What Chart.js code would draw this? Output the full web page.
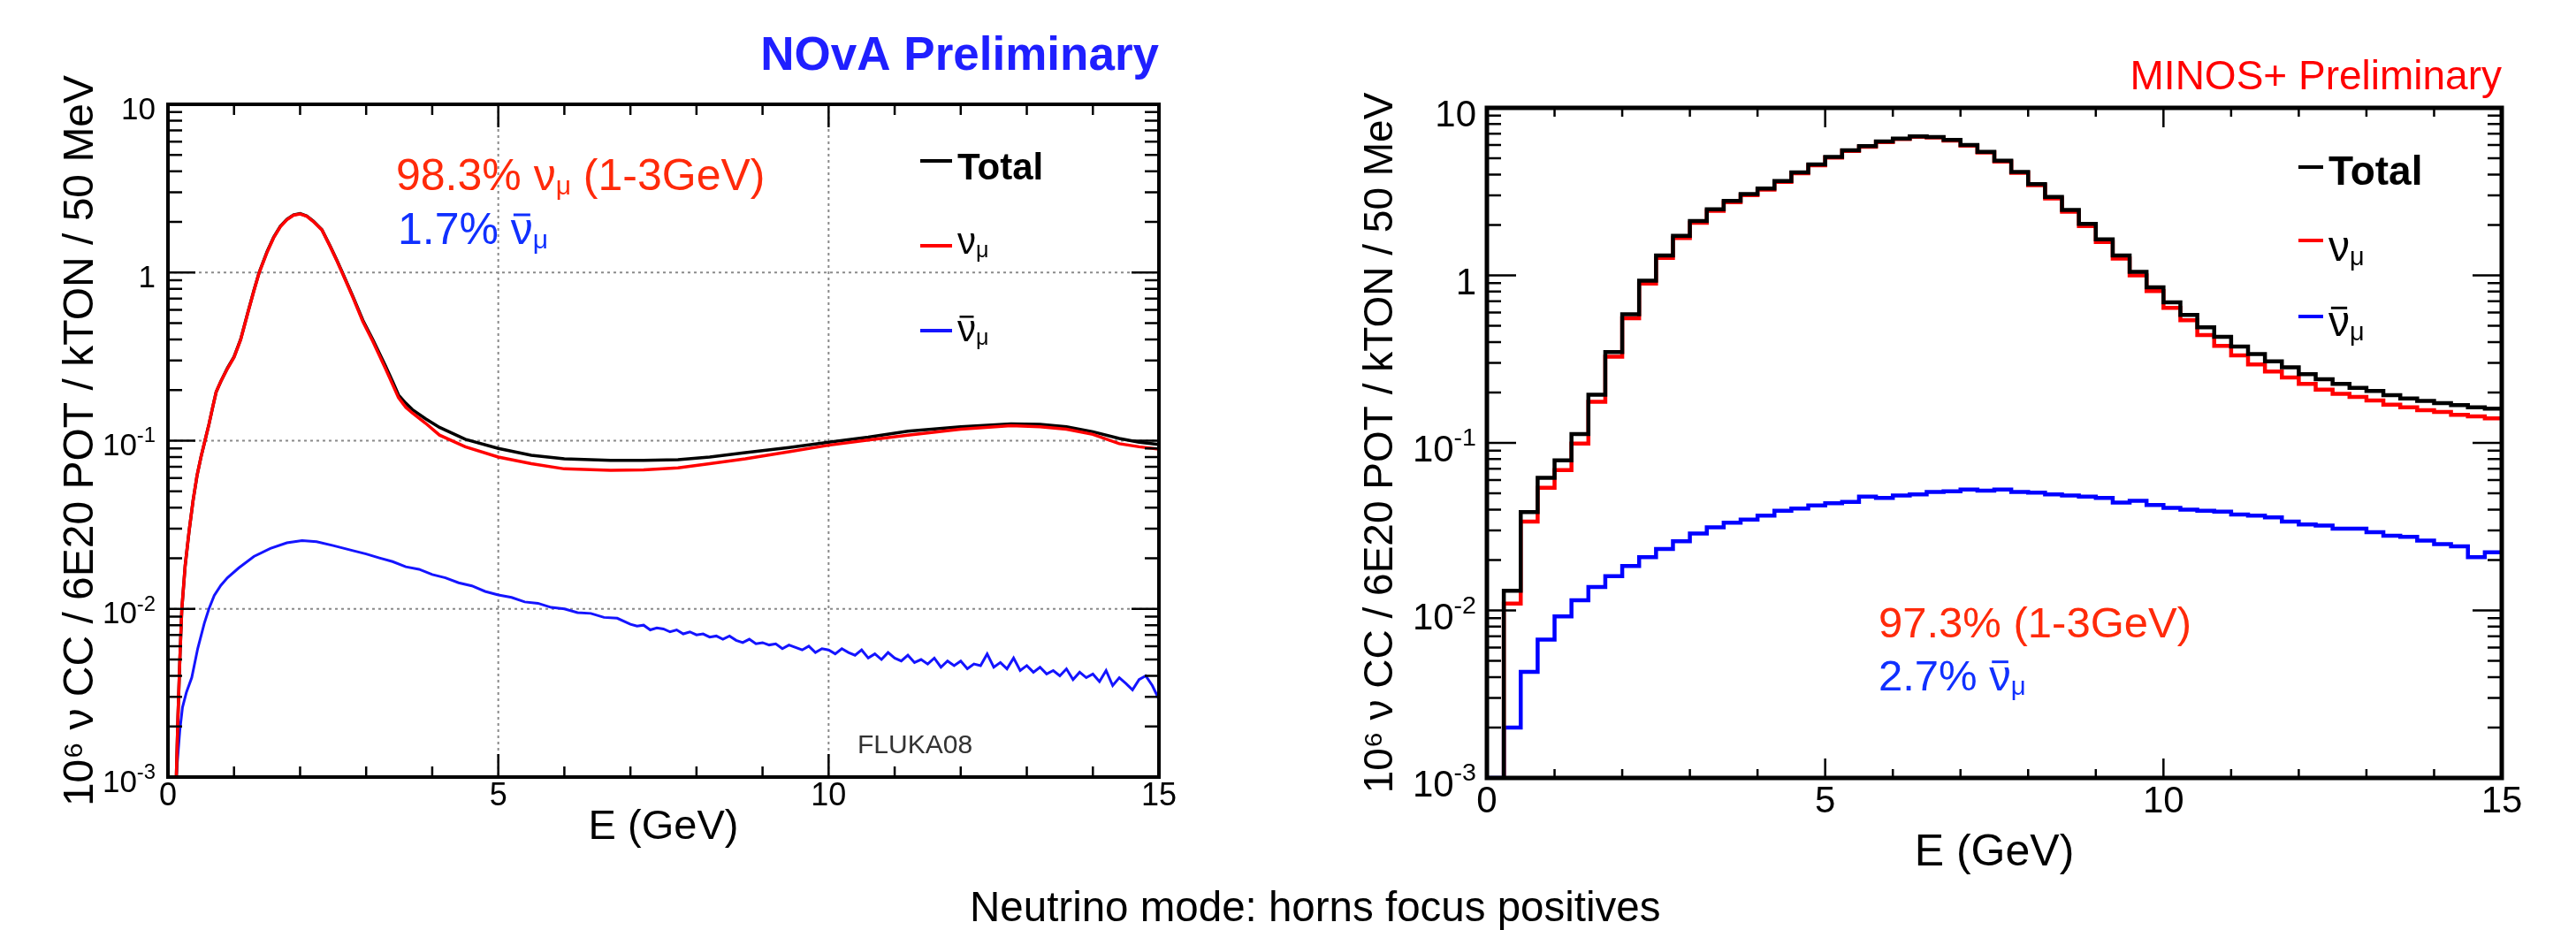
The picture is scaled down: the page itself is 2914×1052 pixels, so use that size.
<!DOCTYPE html>
<html>
<head>
<meta charset="utf-8">
<title>Neutrino mode: horns focus positives</title>
<script src="https://cdn.jsdelivr.net/npm/chart.js@4.4.1/dist/chart.umd.min.js"></script>
<style>
  html, body { margin:0; padding:0; background:#ffffff; }
  #wrap { position:relative; width:2914px; height:1052px; overflow:hidden; background:#ffffff; }
  #novaCanvas { position:absolute; left:0; top:0; }
  #minosCanvas { position:absolute; left:1450px; top:0; }
  #caption { position:absolute; left:1097px; top:1002px; font-family:'Liberation Sans', Arial, Helvetica, sans-serif; font-size:47.5px; line-height:47.5px; white-space:nowrap; color:#000; }
</style>
</head>
<body>
<div id="wrap">
  <canvas id="novaCanvas" width="1400" height="1052"></canvas>
  <canvas id="minosCanvas" width="1464" height="1052"></canvas>
  <div id="caption">Neutrino mode: horns focus positives</div>
</div>
<script>
const FONT = "'Liberation Sans', Arial, Helvetica, sans-serif";

// ---------------- NOvA panel (left) ----------------
const novaE = [0.12,0.15,0.18,0.21,0.26,0.32,0.38,0.44,0.50,0.56,0.62,0.68,0.73,0.80,0.90,1.00,1.10,1.21,1.30,1.38,
  1.50,1.60,1.70,1.80,1.90,2.00,2.10,2.20,2.33,2.45,2.55,2.64,2.80,2.95,3.10,3.29,3.40,3.49,3.60,3.70,
  3.90,4.11,4.50,5.00,5.50,6.00,6.70,7.20,7.72,8.20,8.74,9.40,10.0,10.6,11.2,12.0,12.76,13.2,13.6,14.0,
  14.4,14.7,15.0];
const novaTotal = [0.0008,0.0022,0.005,0.010,0.018,0.029,0.044,0.062,0.080,0.100,0.125,0.160,0.195,0.225,0.270,0.315,0.400,0.580,0.780,1.00,
  1.33,1.62,1.88,2.07,2.20,2.24,2.17,2.02,1.80,1.45,1.20,1.00,0.72,0.52,0.40,0.28,0.225,0.187,0.167,0.153,
  0.135,0.120,0.102,0.090,0.082,0.078,0.0765,0.0765,0.077,0.080,0.085,0.091,0.098,0.105,0.114,0.121,0.126,0.125,0.121,0.113,
  0.103,0.098,0.095];
const novaNumu = [0.0008,0.0022,0.005,0.010,0.018,0.029,0.044,0.062,0.080,0.100,0.125,0.160,0.195,0.225,0.268,0.313,0.398,0.577,0.776,0.995,
  1.32,1.61,1.87,2.06,2.19,2.23,2.16,2.01,1.79,1.44,1.19,0.99,0.71,0.51,0.39,0.27,0.216,0.180,0.158,0.146,
  0.127,0.108,0.092,0.080,0.073,0.068,0.0667,0.067,0.069,0.073,0.078,0.086,0.094,0.101,0.108,0.117,0.123,0.121,0.117,0.109,
  0.096,0.092,0.089];
const novaBarE = [0.10,0.14,0.18,0.22,0.28,0.36,0.45,0.55,0.62,0.70,0.80,0.90,1.07,1.30,1.55,1.80,2.03,2.25,2.50,2.80,
  3.0,3.2,3.4,3.6,3.8,4.0,4.2,4.4,4.6,4.8,5.0,5.2,5.4,5.6,5.8,6.0,6.2,6.4,6.6,6.8,
  7.0,7.1,7.2,7.3,7.4,7.5,7.6,7.7,7.8,7.9,8.0,8.1,8.2,8.3,8.4,8.5,8.6,8.7,8.8,8.9,
  9.0,9.1,9.2,9.3,9.4,9.5,9.6,9.7,9.8,9.9,10.0,10.1,10.2,10.3,10.4,10.5,10.6,10.7,10.8,10.9,
  11.0,11.1,11.2,11.3,11.4,11.5,11.6,11.7,11.8,11.9,12.0,12.1,12.2,12.3,12.4,12.5,12.6,12.7,12.8,12.9,
  13.0,13.1,13.2,13.3,13.4,13.5,13.6,13.7,13.8,13.9,14.0,14.1,14.2,14.3,14.4,14.5,14.6,14.7,14.8,14.9,15.0];
const novaBar = [0.0007,0.0012,0.0019,0.0026,0.0032,0.0039,0.0058,0.0082,0.0100,0.0120,0.0138,0.0153,0.0175,0.0205,0.0229,0.0247,0.0255,0.0251,0.0238,0.0222,
  0.0212,0.0201,0.0191,0.0178,0.0172,0.0160,0.0153,0.0143,0.0137,0.0127,0.0121,0.0117,0.0110,0.0108,0.0102,0.0100,0.0095,0.0094,0.0089,0.0088,
  0.0081,0.0079,0.0080,0.0075,0.0077,0.0076,0.0073,0.0075,0.0071,0.0073,0.0070,0.0071,0.0068,0.0069,0.0066,0.0069,0.0065,0.0063,0.0066,0.0062,
  0.0063,0.0061,0.0062,0.0058,0.0061,0.0059,0.0057,0.0060,0.0055,0.0058,0.0057,0.0054,0.0058,0.0055,0.0053,0.0057,0.0051,0.0054,0.0050,0.0055,
  0.0051,0.0049,0.0053,0.0048,0.0050,0.0047,0.0051,0.0045,0.0049,0.0046,0.0049,0.0044,0.0047,0.0046,0.0054,0.0045,0.0048,0.0044,0.0051,0.0043,
  0.0046,0.0042,0.0045,0.0041,0.0043,0.0040,0.0044,0.0038,0.0042,0.0039,0.0041,0.0037,0.0043,0.0035,0.0039,0.0036,0.0033,0.0038,0.0040,0.0035,0.0029];

// ---------------- MINOS+ panel (right), 0.25 GeV bins ----------------
const minosEdges = [0,0.25,0.5,0.75,1,1.25,1.5,1.75,2,2.25,2.5,2.75,3,3.25,3.5,3.75,4,4.25,4.5,4.75,
  5,5.25,5.5,5.75,6,6.25,6.5,6.75,7,7.25,7.5,7.75,8,8.25,8.5,8.75,9,9.25,9.5,9.75,
  10,10.25,10.5,10.75,11,11.25,11.5,11.75,12,12.25,12.5,12.75,13,13.25,13.5,13.75,14,14.25,14.5,14.75,15];
const minosTotal = [0.0001,0.0131,0.0387,0.0618,0.0787,0.113,0.194,0.348,0.585,0.931,1.315,1.72,2.11,2.48,2.78,3.06,3.30,3.66,4.12,4.59,
  5.10,5.58,5.91,6.30,6.56,6.76,6.70,6.43,6.00,5.47,4.84,4.15,3.51,2.94,2.46,2.03,1.64,1.315,1.05,0.849,
  0.69,0.58,0.49,0.43,0.376,0.339,0.307,0.283,0.257,0.240,0.225,0.213,0.204,0.193,0.184,0.178,0.173,0.168,0.163,0.160];
const minosNumu = [0.0001,0.0110,0.0339,0.054,0.0689,0.099,0.176,0.327,0.555,0.895,1.27,1.67,2.06,2.43,2.73,3.01,3.25,3.61,4.07,4.54,
  5.05,5.53,5.86,6.25,6.51,6.71,6.65,6.38,5.95,5.41,4.78,4.09,3.45,2.88,2.40,1.97,1.58,1.26,1.00,0.806,
  0.64,0.54,0.44,0.38,0.333,0.294,0.267,0.246,0.225,0.208,0.196,0.188,0.179,0.169,0.163,0.157,0.153,0.147,0.144,0.140];
const minosNumubar = [0.001,0.0020,0.0043,0.0067,0.0092,0.0115,0.0138,0.0160,0.0184,0.0208,0.0233,0.0259,0.0288,0.0313,0.0334,0.0348,0.0368,0.0393,0.0406,0.0423,
  0.0437,0.0444,0.0478,0.0470,0.0485,0.0493,0.0509,0.0514,0.0527,0.0519,0.0527,0.0509,0.0505,0.0493,0.0485,0.0478,0.0470,0.0440,0.0451,0.0426,
  0.0409,0.0399,0.0393,0.0389,0.0374,0.0368,0.0359,0.0339,0.0326,0.0321,0.0308,0.0308,0.0293,0.0279,0.0275,0.0261,0.0249,0.0241,0.0208,0.0222];

// ---------------- axis ticks ----------------
const xTickStep = 5;
const yTickValues = [0.001, 0.01, 0.1, 1, 10];
const yTickLabels = ['10^-3', '10^-2', '10^-1', '1', '10'];

function pts(xs, ys) { return xs.map((x, i) => ({x: x, y: ys[i]})); }
function histPts(edges, vals) {
  const out = vals.map((v, i) => ({x: edges[i], y: v}));
  out.push({x: edges[vals.length], y: vals[vals.length - 1]});
  return out;
}
function seg(t, o) { return Object.assign({t: t}, o || {}); }

function drawRich(ctx, x, base, segs, size, opt) {
  opt = opt || {};
  const weight = opt.weight || 'normal';
  const items = segs.map(s => {
    const sz = (s.sub || s.sup) ? size * (s.scale || 0.6) : size;
    ctx.font = (s.weight || weight) + ' ' + sz + 'px ' + FONT;
    return {s: s, sz: sz, w: ctx.measureText(s.t).width};
  });
  const total = items.reduce((a, b) => a + b.w, 0);
  let cx = opt.align === 'right' ? x - total : x;
  ctx.textAlign = 'left';
  ctx.textBaseline = 'alphabetic';
  items.forEach(it => {
    const s = it.s;
    ctx.font = (s.weight || weight) + ' ' + it.sz + 'px ' + FONT;
    ctx.fillStyle = s.color || opt.color || '#000';
    let y = base;
    if (s.sub) y += size * 0.1;
    if (s.sup) y -= size * 0.42;
    ctx.fillText(s.t, cx, y);
    if (s.bar) ctx.fillRect(cx + it.w * 0.12, y - it.sz * 0.69, it.w * 0.76, Math.max(2.5, it.sz * 0.06));
    cx += it.w;
  });
  return total;
}

function panelPlugin(p) {
  return {
    id: 'panel_' + p.name,
    beforeDatasetsDraw(chart) {
      if (!p.gridX) return;
      const ctx = chart.ctx, a = chart.chartArea, sx = chart.scales.x, sy = chart.scales.y;
      ctx.save();
      ctx.strokeStyle = p.gridColor; ctx.lineWidth = p.gridWidth; ctx.setLineDash(p.gridDash);
      p.gridX.forEach(v => { const px = sx.getPixelForValue(v); ctx.beginPath(); ctx.moveTo(px, a.top); ctx.lineTo(px, a.bottom); ctx.stroke(); });
      p.gridY.forEach(v => { const py = sy.getPixelForValue(v); ctx.beginPath(); ctx.moveTo(a.left, py); ctx.lineTo(a.right, py); ctx.stroke(); });
      ctx.restore();
    },
    afterDatasetsDraw(chart) {
      const ctx = chart.ctx, a = chart.chartArea, sx = chart.scales.x, sy = chart.scales.y;
      ctx.save();
      ctx.strokeStyle = '#000'; ctx.setLineDash([]); ctx.lineCap = 'butt';
      ctx.lineWidth = p.tickWidth;
      ctx.beginPath();
      for (let e = 0; e <= 15; e++) {
        const L = (e % xTickStep === 0) ? p.xMajor : p.xMinor;
        const px = sx.getPixelForValue(e);
        ctx.moveTo(px, a.bottom); ctx.lineTo(px, a.bottom - L);
        ctx.moveTo(px, a.top); ctx.lineTo(px, a.top + L);
      }
      for (let d = -3; d <= 0; d++) {
        for (let m = 1; m <= 9; m++) {
          const L = (m === 1) ? p.yMajor : p.yMinor;
          const py = sy.getPixelForValue(m * Math.pow(10, d));
          ctx.moveTo(a.left, py); ctx.lineTo(a.left + L, py);
          ctx.moveTo(a.right, py); ctx.lineTo(a.right - L, py);
        }
      }
      ctx.stroke();
      ctx.lineWidth = p.frameWidth;
      ctx.strokeRect(a.left, a.top, a.right - a.left, a.bottom - a.top);
      ctx.restore();
    },
    afterDraw(chart) {
      const ctx = chart.ctx, a = chart.chartArea, sy = chart.scales.y;
      ctx.save();
      yTickValues.forEach((v, i) => {
        const parts = yTickLabels[i].split('^');
        const segs = [seg(parts[0])];
        if (parts[1]) segs.push(seg(parts[1], {sup: true, scale: 0.68}));
        drawRich(ctx, a.left - p.yLabelGap, sy.getPixelForValue(v) + p.yLabelDy, segs, p.yLabelSize, {align: 'right'});
      });
      p.extras(ctx);
      ctx.restore();
    }
  };
}

function legendLine(ctx, x1, x2, y, color, w) {
  ctx.fillStyle = color;
  ctx.fillRect(x1, y - w / 2, x2 - x1, w);
}

const RED_TXT = '#ff2a0a';
const BLUE_TXT = '#1030ff';

// ---------------- left chart ----------------
new Chart(document.getElementById('novaCanvas'), {
  type: 'line',
  data: {
    datasets: [
      {label: 'numu', data: pts(novaE, novaNumu), borderColor: '#ff0000', borderWidth: 3.5},
      {label: 'Total', data: pts(novaE, novaTotal), borderColor: '#000000', borderWidth: 3.5},
      {label: 'numubar', data: pts(novaBarE, novaBar), borderColor: '#1414ff', borderWidth: 3}
    ]
  },
  options: {
    responsive: false, animation: false, devicePixelRatio: 1,
    elements: {point: {radius: 0}, line: {tension: 0, fill: false}},
    layout: {padding: {left: 0, top: 0, right: 89, bottom: 0}},
    plugins: {
      legend: {display: false}, tooltip: {enabled: false},
      title: {display: true, text: 'NOvA Preliminary', align: 'end', color: '#1f1fff',
        font: {family: FONT, size: 53, weight: 'bold'}, padding: {top: 33, bottom: 21.4}}
    },
    scales: {
      x: {type: 'linear', min: 0, max: 15,
        grid: {display: false, drawTicks: false}, border: {display: false},
        ticks: {stepSize: xTickStep, color: '#000', font: {family: FONT, size: 36}, padding: 0, maxRotation: 0, autoSkip: false},
        title: {display: true, text: 'E (GeV)', color: '#000', font: {family: FONT, size: 47}, padding: {top: 0, bottom: 88}},
        afterFit(s) { s.height = 173; s.paddingLeft = 0; s.paddingRight = 0; }},
      y: {type: 'logarithmic', min: 0.001, max: 10,
        grid: {display: false, drawTicks: false}, border: {display: false},
        ticks: {display: false},
        title: {display: true, text: '10⁶ ν CC / 6E20 POT / kTON / 50 MeV', color: '#000', font: {family: FONT, size: 48}, padding: {top: 63, bottom: 0}},
        afterFit(s) { s.width = 190; s.paddingTop = 0; s.paddingBottom = 0; }}
    }
  },
  plugins: [panelPlugin({
    name: 'nova', frameWidth: 4, tickWidth: 2.5, xMajor: 26, xMinor: 12, yMajor: 31, yMinor: 16,
    gridX: [5, 10], gridY: [0.01, 0.1, 1], gridColor: '#8a8a8a', gridWidth: 2, gridDash: [3, 4],
    yLabelGap: 14, yLabelDy: 16.5, yLabelSize: 35,
    extras(ctx) {
      drawRich(ctx, 448, 215, [seg('98.3% '), seg('ν'), seg('μ', {sub: true}), seg(' (1-3GeV)')], 50, {color: RED_TXT});
      drawRich(ctx, 450, 276, [seg('1.7% '), seg('ν', {bar: true}), seg('μ', {sub: true})], 50, {color: BLUE_TXT});
      drawRich(ctx, 970, 852, [seg('FLUKA08')], 30, {color: '#333'});
      legendLine(ctx, 1041, 1077, 182, '#000', 4);
      drawRich(ctx, 1083, 203, [seg('Total', {weight: 'bold'})], 42, {color: '#000'});
      legendLine(ctx, 1041, 1077, 278, '#ff0000', 4);
      drawRich(ctx, 1083, 287, [seg('ν'), seg('μ', {sub: true})], 42, {color: '#000'});
      legendLine(ctx, 1041, 1077, 374, '#1414ff', 4);
      drawRich(ctx, 1083, 386, [seg('ν', {bar: true}), seg('μ', {sub: true})], 42, {color: '#000'});
    }
  })]
});

// ---------------- right chart ----------------
new Chart(document.getElementById('minosCanvas'), {
  type: 'line',
  data: {
    datasets: [
      {label: 'Total', data: histPts(minosEdges, minosTotal), borderColor: '#000000', borderWidth: 4.5, stepped: 'before'},
      {label: 'numu', data: histPts(minosEdges, minosNumu), borderColor: '#ff0000', borderWidth: 4.5, stepped: 'before'},
      {label: 'numubar', data: histPts(minosEdges, minosNumubar), borderColor: '#0000ff', borderWidth: 4.5, stepped: 'before'}
    ]
  },
  options: {
    responsive: false, animation: false, devicePixelRatio: 1,
    elements: {point: {radius: 0}, line: {tension: 0, fill: false}},
    layout: {padding: {left: 0, top: 0, right: 84, bottom: 0}},
    plugins: {
      legend: {display: false}, tooltip: {enabled: false},
      title: {display: true, text: 'MINOS+ Preliminary', align: 'end', color: '#ff0000',
        font: {family: FONT, size: 46, weight: 'normal'}, padding: {top: 61, bottom: 5.8}}
    },
    scales: {
      x: {type: 'linear', min: 0, max: 15,
        grid: {display: false, drawTicks: false}, border: {display: false},
        ticks: {stepSize: xTickStep, color: '#000', font: {family: FONT, size: 42}, padding: 2, maxRotation: 0, autoSkip: false},
        title: {display: true, text: 'E (GeV)', color: '#000', font: {family: FONT, size: 50}, padding: {top: 0, bottom: 57}},
        afterFit(s) { s.height = 172; s.paddingLeft = 0; s.paddingRight = 0; }},
      y: {type: 'logarithmic', min: 0.001, max: 10,
        grid: {display: false, drawTicks: false}, border: {display: false},
        ticks: {display: false},
        title: {display: true, text: '10⁶ ν CC / 6E20 POT / kTON / 50 MeV', color: '#000', font: {family: FONT, size: 46}, padding: {top: 85, bottom: 0}},
        afterFit(s) { s.width = 232; s.paddingTop = 0; s.paddingBottom = 0; }}
    }
  },
  plugins: [panelPlugin({
    name: 'minos', frameWidth: 5, tickWidth: 2.5, xMajor: 22, xMinor: 10, yMajor: 33, yMinor: 16,
    yLabelGap: 12, yLabelDy: 21, yLabelSize: 42,
    extras(ctx) {
      drawRich(ctx, 675, 721, [seg('97.3% (1-3GeV)')], 49, {color: RED_TXT});
      drawRich(ctx, 675, 781, [seg('2.7% '), seg('ν', {bar: true}), seg('μ', {sub: true})], 49, {color: BLUE_TXT});
      legendLine(ctx, 1150, 1178, 189, '#000', 4);
      drawRich(ctx, 1184, 209, [seg('Total', {weight: 'bold'})], 46, {color: '#000'});
      legendLine(ctx, 1150, 1178, 272, '#ff0000', 4);
      drawRich(ctx, 1184, 295, [seg('ν'), seg('μ', {sub: true})], 48, {color: '#000'});
      legendLine(ctx, 1150, 1178, 358, '#0000ff', 4);
      drawRich(ctx, 1184, 380, [seg('ν', {bar: true}), seg('μ', {sub: true})], 48, {color: '#000'});
    }
  })]
});
</script>
</body>
</html>
